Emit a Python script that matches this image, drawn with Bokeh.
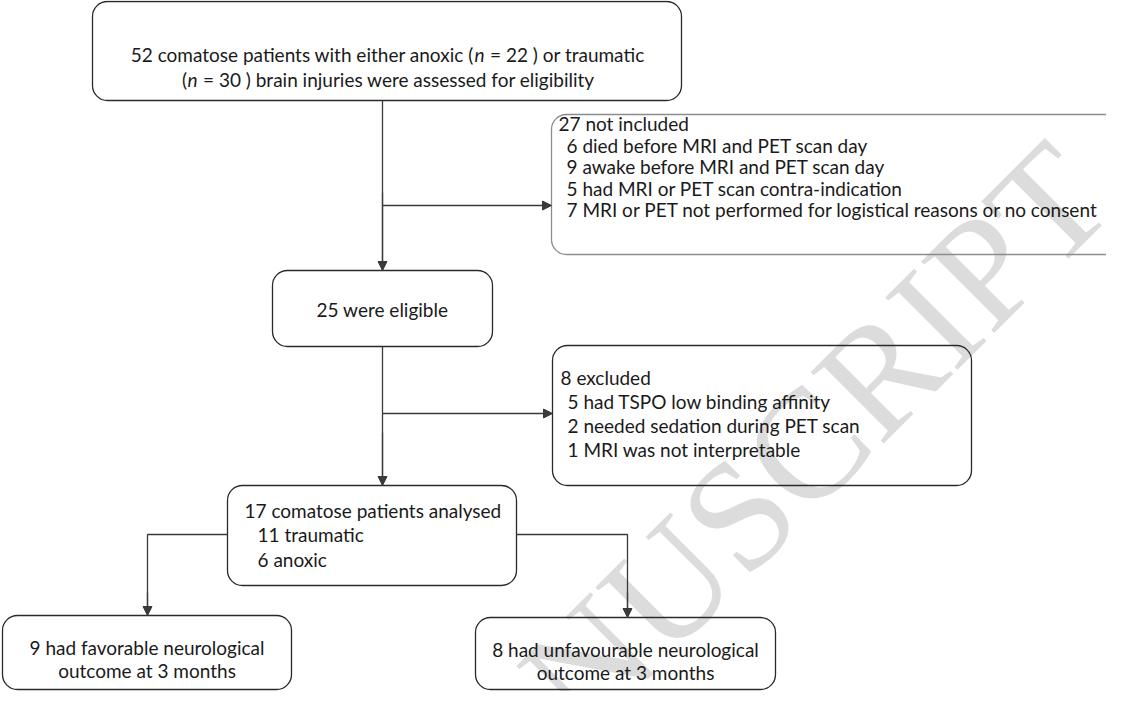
import math
from bokeh.plotting import figure
from bokeh.models import Range1d, Arrow, NormalHead
from bokeh.core.properties import value
from bokeh.embed import file_html
from bokeh.resources import INLINE

# ---------------- data ----------------
n_assessed_anoxic = 22
n_assessed_traumatic = 30
n_assessed = n_assessed_anoxic + n_assessed_traumatic

not_included_counts = [6, 9, 5, 7]
not_included_reasons = [
    "died before MRI and PET scan  day",
    "awake before MRI and PET scan day",
    "had MRI or PET scan contra-indication",
    "MRI or PET not performed for logistical reasons or no consent",
]
n_eligible = n_assessed - sum(not_included_counts)

excluded_counts = [5, 2, 1]
excluded_reasons = [
    "had TSPO low binding affinity",
    "needed sedation during PET scan",
    "MRI was not interpretable",
]
n_analysed = n_eligible - sum(excluded_counts)
analysed_groups = ["traumatic", "anoxic"]
analysed_counts = [11, 6]

outcome_counts = [9, 8]
outcome_kinds = ["favorable", "unfavourable"]

# ---------------- styles / layout ----------------
FONT = value("Lato")
FS = "19px"
INK = "#1a1a1a"
LINE = "#3a3a3a"
W, H = 1106, 691

p = figure(width=W, height=H, output_backend="svg", toolbar_location=None,
           x_range=Range1d(8, 8 + W), y_range=Range1d(8 + H, 8),
           min_border=0, tools="")
p.axis.visible = False
p.grid.visible = False
p.outline_line_color = None
p.background_fill_color = "white"
p.border_fill_color = "white"

# watermark (behind everything; partly outside the page, as in the original)
p.text(x=[556], y=[712], text=["NUSCRIPT"], angle=math.pi / 4,
       text_font=value("Liberation Serif"), text_font_size="156px",
       text_color="#dcdcdc", text_baseline="alphabetic", text_align="left")

# boxes: left, right, top, bottom
boxes = {
    "assessed": (100, 689, 9, 108),
    "notinc": (559, 1150, 122, 262),
    "eligible": (280, 500, 278, 354),
    "excluded": (560, 979, 353, 493),
    "analysed": (235, 524, 493, 593),
    "fav": (10, 299, 623, 697),
    "unfav": (483, 783, 625, 697),
}
dark = [k for k in boxes if k != "notinc"]
p.quad(left=[boxes[k][0] for k in dark], right=[boxes[k][1] for k in dark],
       top=[boxes[k][2] for k in dark], bottom=[boxes[k][3] for k in dark],
       fill_alpha=0, line_color="#2a2a2a", line_width=1.3, border_radius=15)
b = boxes["notinc"]
p.quad(left=[b[0]], right=[b[1]], top=[b[2]], bottom=[b[3]],
       fill_alpha=0, line_color="#8c8c8c", line_width=1.3, border_radius=15)

# connector lines
p.line(x=[390, 390], y=[108, 278], line_color=LINE, line_width=1.3)
p.line(x=[390, 390], y=[354, 493], line_color=LINE, line_width=1.3)
p.line(x=[235, 155, 155], y=[542, 542, 623], line_color=LINE, line_width=1.3)
p.line(x=[524, 635, 635], y=[542, 542, 625], line_color=LINE, line_width=1.3)


def arrow(x0, y0, x1, y1):
    p.add_layout(Arrow(end=NormalHead(size=9, fill_color=LINE, line_color=LINE),
                       x_start=x0, y_start=y0, x_end=x1, y_end=y1,
                       line_color=LINE, line_width=1.3))


arrow(390, 200, 390, 278)
arrow(390, 213, 559, 213)
arrow(390, 440, 390, 493)
arrow(390, 421, 560, 421)
arrow(155, 600, 155, 623)
arrow(635, 600, 635, 625)


def txt(x, y, s, align="left", italic=False):
    p.text(x=[x], y=[y], text=[s], text_font=FONT, text_font_size=FS,
           text_color=INK, text_align=align, text_baseline="middle",
           text_font_style="italic" if italic else "normal")


# box 1 (with italic n)
xn1, y1 = 487, 62
txt(xn1 - 5.5, y1, f"{n_assessed} comatose patients with either anoxic (", "right")
txt(xn1, y1, "n", "center", italic=True)
txt(xn1 + 10.5, y1, f"= {n_assessed_anoxic} ) or traumatic", "left")
xn2, y2 = 200, 87
txt(xn2 - 5.5, y2, "(", "right")
txt(xn2, y2, "n", "center", italic=True)
txt(xn2 + 10.5, y2, f"= {n_assessed_traumatic} ) brain injuries were assessed for eligibility", "left")

# box 3
ys3 = [131, 152.5, 174, 195.5, 217]
txt(566, ys3[0], f"{sum(not_included_counts)} not included")
for yy, c, r in zip(ys3[1:], not_included_counts, not_included_reasons):
    txt(574, yy, f"{c} {r}")

# box 2
txt(390, 317, f"{n_eligible} were eligible", "center")

# box 5
ys5 = [385, 409, 433, 457]
txt(568, ys5[0], f"{sum(excluded_counts)} excluded")
for yy, c, r in zip(ys5[1:], excluded_counts, excluded_reasons):
    txt(575, yy, f"{c} {r}")

# box 4
ys4 = [518, 542, 567]
txt(252, ys4[0], f"{n_analysed} comatose patients analysed")
for yy, c, g in zip(ys4[1:], analysed_counts, analysed_groups):
    txt(265, yy, f"{c} {g}")

# outcome boxes
for cx, c, k, yy in zip([154.5, 633], outcome_counts, outcome_kinds, [655, 657]):
    txt(cx, yy, f"{c} had {k} neurological", "center")
    txt(cx, yy + 23, "outcome at 3 months", "center")

open("out.html", "w").write(file_html(p, INLINE))
